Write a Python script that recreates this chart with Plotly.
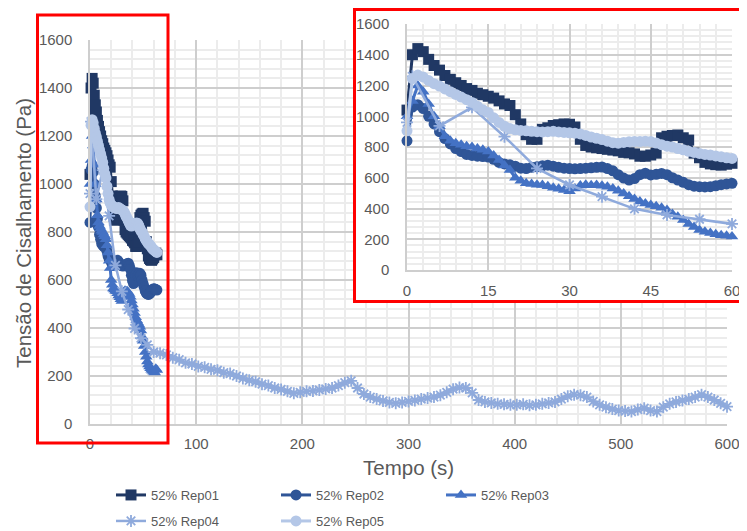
import plotly.graph_objects as go

# page is 747x531; the html body has an 8px margin, so the figure is 8px smaller
OFF = 8
W, H = 747 - OFF, 531 - OFF

# ---------------- data ----------------
series_names = ["52% Rep01", "52% Rep02", "52% Rep03", "52% Rep04", "52% Rep05"]
series_colors = ["#203864", "#2F5597", "#4472C4", "#8FAADC", "#B4C7E7"]
series_symbols = ["square", "circle", "triangle-up", "asterisk-open", "circle"]

t_short = list(range(0, 64))  # seconds, Rep01/02/03/05

rep01 = [1040, 1400, 1440, 1420, 1370, 1330, 1300, 1265, 1240, 1218,
         1200, 1180, 1168, 1150, 1140, 1130, 1118, 1100, 1080, 1070,
         1010, 950, 880, 850, 850, 915, 925, 940, 945, 950,
         948, 930, 850, 810, 800, 795, 790, 785, 780, 775,
         765, 762, 755, 740, 740, 748, 760, 860, 870, 875,
         878, 860, 845, 760, 730, 700, 690, 685, 682, 688,
         694, 705, 712, 705]

rep02 = [840, 1060, 1075, 1050, 1000, 950, 900, 855, 820, 790,
         770, 752, 745, 740, 738, 735, 720, 700, 690, 684,
         675, 662, 660, 668, 672, 678, 682, 675, 668, 662,
         660, 658, 660, 662, 665, 668, 670, 660, 645, 620,
         598, 585, 595, 620, 630, 618, 622, 628, 620, 600,
         585, 570, 555, 545, 542, 540, 542, 548, 555, 560,
         564, 562, 560, 558]

rep03 = [1000, 1100, 1200, 1160, 1080, 1000, 935, 870, 840, 825,
         815, 805, 800, 790, 782, 770, 745, 715, 680, 650,
         600, 580, 565, 560, 555, 553, 545, 535, 528, 520,
         512, 530, 550, 555, 552, 553, 548, 542, 530, 515,
         498, 480, 462, 445, 432, 423, 415, 405, 390, 365,
         347, 325, 300, 280, 260, 248, 240, 232, 226, 222,
         218, 215, 230, 225]

rep05 = [905, 1245, 1268, 1255, 1232, 1212, 1196, 1178, 1160, 1142,
         1125, 1108, 1090, 1065, 1042, 1025, 990, 960, 935, 920,
         912, 908, 905, 902, 900, 898, 900, 902, 898, 895,
         892, 890, 885, 875, 865, 857, 848, 838, 828, 825,
         830, 834, 836, 835, 838, 835, 826, 815, 805, 800,
         790, 782, 772, 765, 758, 752, 748, 742, 736, 730,
         726, 722, 718, 715]

t_rep04 = [0, 1, 6, 12, 18, 24, 30, 36, 42, 48, 54] + list(range(60, 601, 6))
rep04 = [960, 1260, 937, 1058, 867, 661, 553, 477, 398, 358, 330,
         300, 295, 288, 276, 268, 255, 250, 240, 236, 228,
         224, 214, 210, 200, 190, 182, 176, 166, 160, 150,
         144, 136, 128, 132, 136, 138, 142, 146, 150, 160,
         172, 180, 150, 125, 112, 104, 96, 90, 86, 90,
         94, 98, 104, 108, 112, 120, 132, 145, 152, 150,
         130, 100, 92, 88, 84, 82, 80, 80, 82, 78,
         80, 84, 88, 92, 104, 116, 122, 120, 112, 94,
         80, 70, 62, 56, 54, 52, 60, 66, 56, 52,
         70, 84, 92, 98, 104, 112, 122, 112, 100, 86,
         72]

series_x = [t_short, t_short, t_short, t_rep04, t_short]
series_y = [rep01, rep02, rep03, rep04, rep05]

x_title = "Tempo (s)"
y_title = "Tensão de Cisalhamento (Pa)"

# ---------------- helpers (page px -> paper) ----------------
def px_x(x):
    return (x - OFF) / W

def px_y(y):
    return 1 - (y - OFF) / H

FONT = "Liberation Sans, Arial, sans-serif"
GRAY = "#595959"
MAJ = "#CECECE"
MIN = "#ECECEC"

fig = go.Figure()

legend_ids = ["legend", "legend", "legend", "legend2", "legend2"]
marker_sizes = [11, 11, 11, 10, 11]
line_widths = [3, 3, 3, 2.5, 3]

def marker(i):
    mk = dict(symbol=series_symbols[i], size=marker_sizes[i], color=series_colors[i])
    if series_symbols[i].endswith("open"):
        mk["line"] = dict(color=series_colors[i], width=1.8)
    return mk

for i in range(5):
    fig.add_trace(go.Scatter(
        x=series_x[i], y=series_y[i], name=series_names[i], mode="lines+markers",
        line=dict(color=series_colors[i], width=line_widths[i]), marker=marker(i),
        xaxis="x", yaxis="y", cliponaxis=False, legend=legend_ids[i],
        hoverinfo="skip"))

# dummy subplot: white box behind inset
fig.add_trace(go.Scatter(x=[None], y=[None], xaxis="x2", yaxis="y2",
                         showlegend=False, hoverinfo="skip"))

for i in range(5):
    fig.add_trace(go.Scatter(
        x=series_x[i], y=series_y[i], name=series_names[i], mode="lines+markers",
        line=dict(color=series_colors[i], width=line_widths[i]), marker=marker(i),
        xaxis="x3", yaxis="y3", cliponaxis=False, showlegend=False,
        hoverinfo="skip"))

tickfont = dict(family=FONT, size=15, color=GRAY)

def axis(domain, rng, dtick, mdtick, anchor, standoff):
    return dict(domain=domain, range=rng, dtick=dtick, tick0=0,
                showgrid=True, gridcolor=MAJ, gridwidth=1.5,
                minor=dict(dtick=mdtick, tick0=0, showgrid=True, gridcolor=MIN, gridwidth=1.5),
                zeroline=False, showline=True, linecolor=MAJ, linewidth=1.5,
                ticks="", tickfont=tickfont, anchor=anchor, automargin=False,
                ticklabelstandoff=standoff, fixedrange=True)

legend_font = dict(family=FONT, size=13, color=GRAY)

fig.update_layout(
    width=W, height=H,
    margin=dict(l=0, r=0, t=0, b=0, pad=0, autoexpand=False),
    paper_bgcolor="white", plot_bgcolor="white",
    font=dict(family=FONT, color=GRAY),
    xaxis=axis([px_x(90), px_x(727)], [0, 600], 100, 20, "y", 5),
    yaxis=axis([px_y(424), px_y(40)], [0, 1600], 200, 40, "x", 13),
    xaxis2=dict(domain=[px_x(356), px_x(742)], visible=False, range=[0, 1], anchor="y2",
                fixedrange=True, automargin=False),
    yaxis2=dict(domain=[px_y(300), px_y(10)], visible=False, range=[0, 1], anchor="x2",
                fixedrange=True, automargin=False),
    xaxis3=axis([px_x(407), px_x(732)], [0, 60], 15, 3, "y3", 6),
    yaxis3=axis([px_y(270), px_y(24)], [0, 1600], 200, 40, "x3", 13),
    legend=dict(orientation="h", x=px_x(111), y=px_y(495), xanchor="left", yanchor="middle",
                entrywidth=120, font=legend_font,
                bgcolor="rgba(0,0,0,0)", tracegroupgap=0),
    legend2=dict(orientation="h", x=px_x(111), y=px_y(521), xanchor="left", yanchor="middle",
                 entrywidth=120, font=legend_font,
                 bgcolor="rgba(0,0,0,0)", tracegroupgap=0),
    showlegend=True,
    annotations=[
        dict(text=x_title, xref="paper", yref="paper", x=px_x(408), y=px_y(467),
             xanchor="center", yanchor="middle", showarrow=False,
             font=dict(family=FONT, size=20.5, color=GRAY)),
        dict(text=y_title, xref="paper", yref="paper", x=px_x(24), y=px_y(233),
             xanchor="center", yanchor="middle", showarrow=False, textangle=-90,
             font=dict(family=FONT, size=20.5, color=GRAY)),
    ],
    shapes=[
        dict(type="rect", xref="paper", yref="paper", x0=px_x(37.5), x1=px_x(168),
             y0=px_y(443), y1=px_y(15), line=dict(color="#FF0000", width=3), layer="above"),
        dict(type="rect", xref="paper", yref="paper", x0=px_x(354.5), x1=px_x(743.5),
             y0=px_y(301.5), y1=px_y(9.5), line=dict(color="#FF0000", width=3), layer="above"),
    ],
)

fig.write_html("out.html")
